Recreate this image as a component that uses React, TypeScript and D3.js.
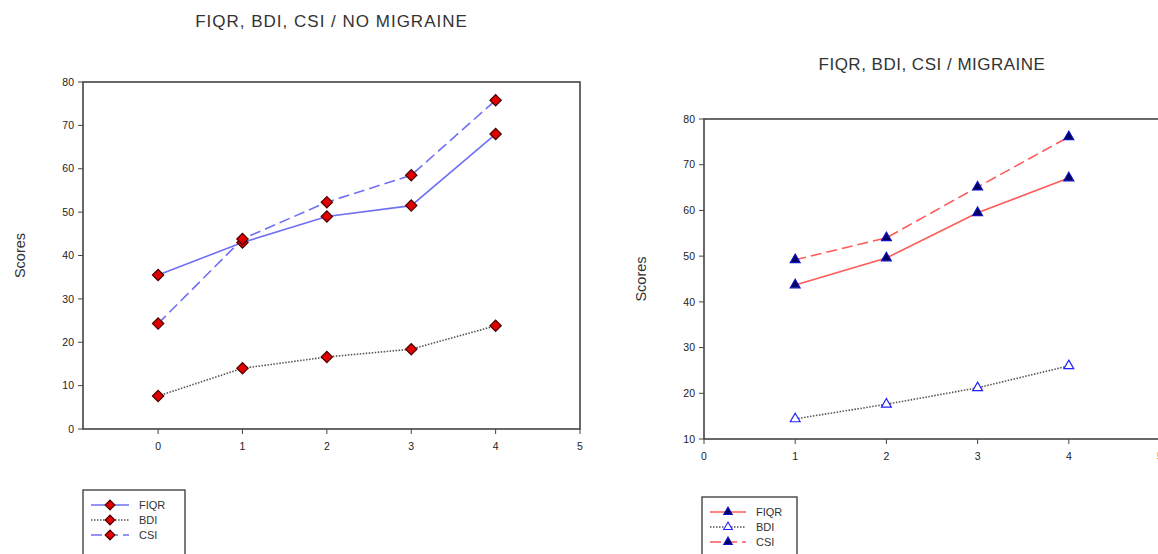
import React from "react";
import * as d3 from "d3";

// x positions (time points) and scores
const noMigraineX = [0, 1, 2, 3, 4];
const noMigraineFIQR = [35.5, 43, 49, 51.5, 68];
const noMigraineBDI = [7.6, 14, 16.6, 18.4, 23.8];
const noMigraineCSI = [24.3, 43.8, 52.3, 58.5, 75.8];

const migraineX = [1, 2, 3, 4];
const migraineFIQR = [43.7, 49.6, 59.5, 67.1];
const migraineBDI = [14.4, 17.6, 21.2, 26];
const migraineCSI = [49.2, 54, 65.1, 76.1];

const seriesNames = ["FIQR", "BDI", "CSI"];
const xTicks = [0, 1, 2, 3, 4, 5];
const leftYTicks = [0, 10, 20, 30, 40, 50, 60, 70, 80];
const rightYTicks = [10, 20, 30, 40, 50, 60, 70, 80];

const FONT = "'Liberation Sans', Arial, sans-serif";
const FRAME = "#444";

type Style = {
  stroke: string;
  dash: string | null;
  symbol: d3.SymbolType;
  size: number;
  rotate: number;
  fill: string;
  mstroke: string;
};

const Panel = ({
  title,
  titleY,
  titleSpacing,
  box,
  xDomain,
  yDomain,
  yTicks,
  xs,
  series,
  styles,
  legend,
}: {
  title: string;
  titleY: number;
  titleSpacing: number;
  box: { left: number; top: number; right: number; bottom: number };
  xDomain: [number, number];
  yDomain: [number, number];
  yTicks: number[];
  xs: number[];
  series: number[][];
  styles: Style[];
  legend: { x: number; y: number; w: number; line: number };
}) => {
  const x = d3.scaleLinear().domain(xDomain).range([box.left, box.right]);
  const y = d3.scaleLinear().domain(yDomain).range([box.bottom, box.top]);
  const line = d3
    .line<number>()
    .x((_, i) => x(xs[i]))
    .y((d) => y(d));

  return (
    <g>
      <text
        x={(box.left + Math.min(box.right, 1160)) / 2}
        y={titleY}
        textAnchor="middle"
        fontFamily={FONT}
        fontSize={17}
        letterSpacing={titleSpacing}
        fill="#333"
      >
        {title}
      </text>
      <rect
        x={box.left}
        y={box.top}
        width={box.right - box.left}
        height={box.bottom - box.top}
        fill="none"
        stroke={FRAME}
        strokeWidth={1.6}
      />
      {yTicks.map((t) => (
        <g key={"y" + t}>
          <line x1={box.left - 5} x2={box.left} y1={y(t)} y2={y(t)} stroke={FRAME} />
          <text
            x={box.left - 9}
            y={y(t)}
            dy="0.35em"
            textAnchor="end"
            fontFamily={FONT}
            fontSize={10.5}
            fill="#222"
          >
            {t}
          </text>
        </g>
      ))}
      {xTicks.map((t) => (
        <g key={"x" + t}>
          <line x1={x(t)} x2={x(t)} y1={box.bottom} y2={box.bottom + 5} stroke={FRAME} />
          <text
            x={x(t)}
            y={box.bottom + 21}
            textAnchor="middle"
            fontFamily={FONT}
            fontSize={10.5}
            fill="#222"
          >
            {t}
          </text>
        </g>
      ))}
      <text
        transform={`translate(${box.left - 58},${(box.top + box.bottom) / 2}) rotate(-90)`}
        textAnchor="middle"
        fontFamily={FONT}
        fontSize={14.5}
        fill="#333"
      >
        Scores
      </text>
      {series.map((s, i) => (
        <path
          key={"l" + i}
          d={line(s) || ""}
          fill="none"
          stroke={styles[i].stroke}
          strokeWidth={1.6}
          strokeDasharray={styles[i].dash || undefined}
        />
      ))}
      {series.map((s, i) =>
        s.map((v, j) => (
          <path
            key={"m" + i + "-" + j}
            transform={`translate(${x(xs[j])},${y(v)}) rotate(${styles[i].rotate})`}
            d={d3.symbol(styles[i].symbol, styles[i].size)() || ""}
            fill={styles[i].fill}
            stroke={styles[i].mstroke}
            strokeWidth={1.2}
          />
        ))
      )}
      {/* legend */}
      <rect
        x={legend.x}
        y={legend.y}
        width={legend.w}
        height={80}
        fill="#fff"
        stroke={FRAME}
        strokeWidth={1.4}
      />
      {seriesNames.map((name, i) => {
        const ly = legend.y + 15 + i * 15;
        const lx0 = legend.x + 8;
        const lx1 = lx0 + legend.line;
        return (
          <g key={"lg" + name}>
            <line
              x1={lx0}
              x2={lx1}
              y1={ly}
              y2={ly}
              stroke={styles[i].stroke}
              strokeWidth={1.5}
              strokeDasharray={styles[i].dash || undefined}
            />
            <path
              transform={`translate(${(lx0 + lx1) / 2},${ly}) rotate(${styles[i].rotate})`}
              d={d3.symbol(styles[i].symbol, styles[i].size * 0.75)() || ""}
              fill={styles[i].fill}
              stroke={styles[i].mstroke}
              strokeWidth={1.1}
            />
            <text
              x={lx1 + 10}
              y={ly}
              dy="0.35em"
              fontFamily={FONT}
              fontSize={11}
              fill="#333"
            >
              {name}
            </text>
          </g>
        );
      })}
    </g>
  );
};

const blueLine = "#7070f4";
const redLine = "#ff5a5a";
const dotted = "1.5,1.5";
const dashed = "11,5";

const diamond = { symbol: d3.symbolSquare, size: 64, rotate: 45, fill: "#e00000", mstroke: "#4a0000" };
const solidTri = { symbol: d3.symbolTriangle, size: 42, rotate: 0, fill: "#000060", mstroke: "#1010c0" };

const leftStyles: Style[] = [
  { stroke: blueLine, dash: null, ...diamond },
  { stroke: "#555", dash: dotted, ...diamond },
  { stroke: blueLine, dash: dashed, ...diamond },
];

const rightStyles: Style[] = [
  { stroke: redLine, dash: null, ...solidTri },
  { stroke: "#555", dash: dotted, ...solidTri, fill: "#fff", mstroke: "#2020ff" },
  { stroke: redLine, dash: dashed, ...solidTri },
];

export default function App() {
  return (
    <svg
      width={1158}
      height={554}
      style={{ position: "absolute", left: 0, top: 0, background: "#fff" }}
    >
      <Panel
        title="FIQR, BDI, CSI / NO MIGRAINE"
        titleY={27}
        titleSpacing={1}
        box={{ left: 83, top: 82, right: 580, bottom: 429 }}
        xDomain={[-0.89, 5]}
        yDomain={[0, 80]}
        yTicks={leftYTicks}
        xs={noMigraineX}
        series={[noMigraineFIQR, noMigraineBDI, noMigraineCSI]}
        styles={leftStyles}
        legend={{ x: 83, y: 490, w: 102, line: 38 }}
      />
      <Panel
        title="FIQR, BDI, CSI / MIGRAINE"
        titleY={70}
        titleSpacing={0.5}
        box={{ left: 704, top: 119, right: 1160, bottom: 439 }}
        xDomain={[0, 5]}
        yDomain={[10, 80]}
        yTicks={rightYTicks}
        xs={migraineX}
        series={[migraineFIQR, migraineBDI, migraineCSI]}
        styles={rightStyles}
        legend={{ x: 702, y: 497, w: 95, line: 36 }}
      />
    </svg>
  );
}
